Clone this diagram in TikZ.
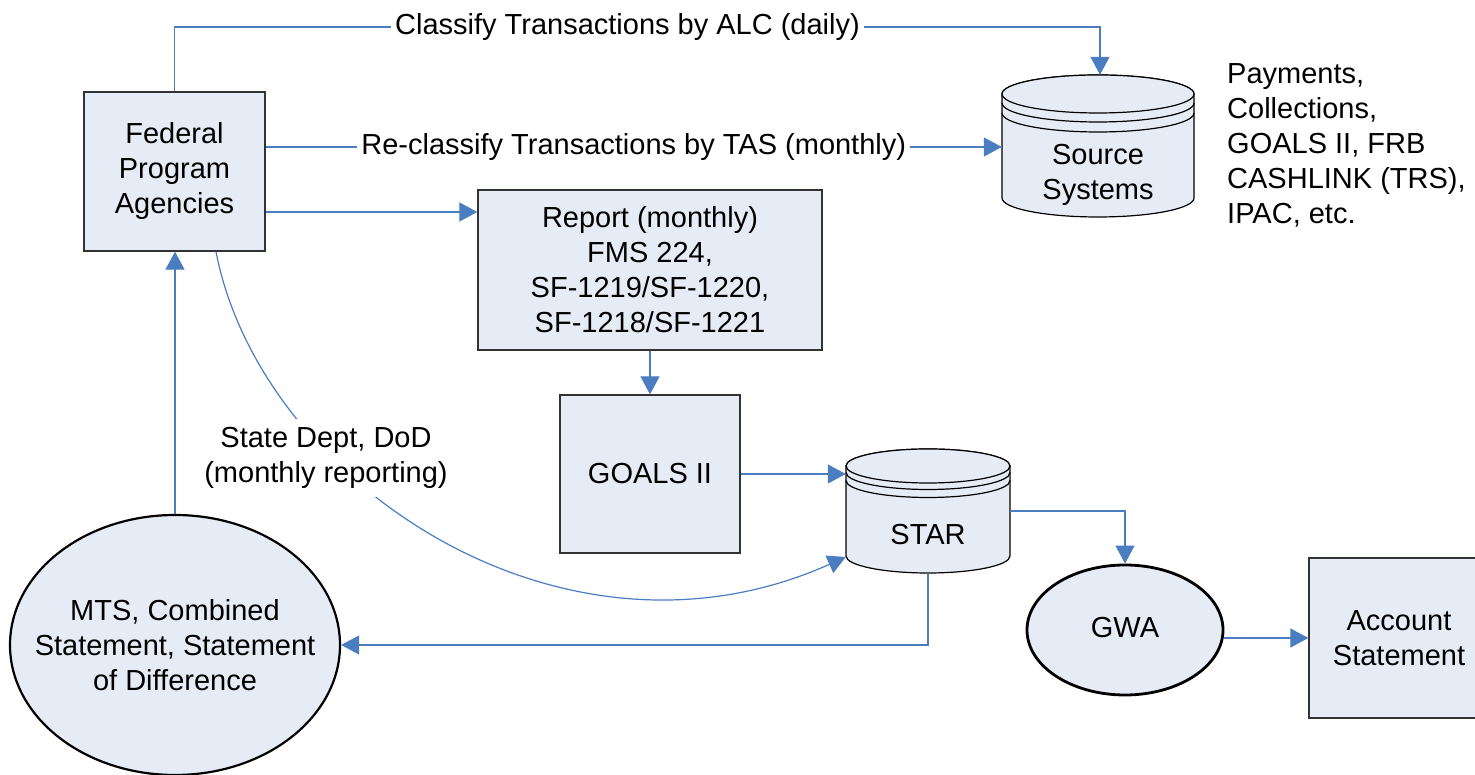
\documentclass[tikz,border=0pt]{standalone}
\usepackage{fontspec}
\setmainfont{Liberation Sans}
\usetikzlibrary{arrows.meta,shapes.geometric,calc}
\definecolor{connblue}{RGB}{74,126,193}
\definecolor{boxfill}{RGB}{230,236,246}
\definecolor{boxline}{RGB}{50,50,50}
\tikzset{
 txt/.style={font=\fontsize{29}{35}\selectfont, align=center, inner sep=0pt},
 boxnode/.style={txt, draw=boxline, line width=1.3pt, fill=boxfill},
 ellnode/.style={ellipse, draw=black, line width=2.2pt, fill=boxfill, inner sep=0pt},
 conn/.style={draw=connblue, line width=1.2pt, -{Triangle[length=18pt,width=19pt]}},
 lbl/.style={txt, fill=white, inner xsep=4pt, inner ysep=4pt},
 cyl/.style={fill=boxfill, draw=black, line width=1.2pt},
 ghost/.style={inner sep=0pt, draw=none},
}
\begin{document}
\begin{tikzpicture}[x=1pt,y=1pt]
\useasboundingbox (0,0) rectangle (1475,775);
% ---- Source Systems cylinder
\path[cyl] (1002,681) -- (1002,577) arc[start angle=180, end angle=360, x radius=96pt, y radius=19pt]
  -- (1194,681) arc[start angle=0, end angle=180, x radius=96pt, y radius=19pt] -- cycle;
\draw[cyl] (1098,681) ellipse[x radius=96pt, y radius=19pt];
\draw[black, line width=1.2pt] (1002,672) arc[start angle=180, end angle=360, x radius=96pt, y radius=19pt];
\draw[black, line width=1.2pt] (1002,662) arc[start angle=180, end angle=360, x radius=96pt, y radius=19pt];
\node[ghost, minimum width=192pt, minimum height=142pt] (src) at (1098,629) {};
\node[txt] (srct) at (1098,600) {Source\\Systems};
% ---- STAR cylinder
\path[cyl] (846,309) -- (846,219) arc[start angle=180, end angle=360, x radius=82pt, y radius=17pt]
  -- (1010,309) arc[start angle=0, end angle=180, x radius=82pt, y radius=17pt] -- cycle;
\draw[cyl] (928,309) ellipse[x radius=82pt, y radius=17pt];
\draw[black, line width=1.2pt] (846,302.5) arc[start angle=180, end angle=360, x radius=82pt, y radius=17pt];
\draw[black, line width=1.2pt] (846,294.5) arc[start angle=180, end angle=360, x radius=82pt, y radius=17pt];
\node[ghost, minimum width=164pt, minimum height=124pt] (star) at (928,264) {};
\node[txt] (start) at (928,240) {STAR};
% ---- boxes
\node[boxnode, minimum width=181pt, minimum height=159pt] (fpa) at (174.5,603.5) {Federal\\Program\\Agencies};
\node[boxnode, minimum width=344pt, minimum height=160pt] (report) at (650,505) {Report (monthly)\\FMS 224,\\SF-1219/SF-1220,\\SF-1218/SF-1221};
\node[boxnode, minimum width=180pt, minimum height=158pt] (goals) at (650,301) {GOALS II};
\node[boxnode, minimum width=180pt, minimum height=160pt] (acct) at (1399,137) {Account\\Statement};
% ---- ellipses
\node[ellnode, minimum width=330pt, minimum height=260pt] (mts) at (175,130) {};
\node[txt] (mtst) at (175,130) {MTS, Combined\\Statement, Statement\\of Difference};
\node[ellnode, line width=2.8pt, minimum width=196pt, minimum height=130pt] (gwa) at (1125,145) {};
\node[txt] (gwat) at (1125,147) {GWA};
% ---- side text
\node[txt, align=left, anchor=west] (pay) at (1227,630) {Payments,\\Collections,\\GOALS II, FRB\\CASHLINK (TRS),\\IPAC, etc.};
% ---- connectors
\coordinate (alcturn) at (1100,748);
\draw[conn] (fpa.north) |- (alcturn) -- (alcturn |- src.north);
\node[lbl] (alc) at (627.5,748) {Classify Transactions by ALC (daily)};
\draw[conn] (fpa.east |- 0,628) -- (src.west |- 0,628) node[lbl, midway] (tas) {Re-classify Transactions by TAS (monthly)};
\draw[conn] (fpa.east |- 0,563) -- (report.west |- 0,563);
\draw[conn] (report.south) -- (goals.north);
\draw[conn] (goals.east) -- (goals.east -| star.west);
\coordinate (curvestart) at ($(fpa.south)+(41.5,0)$);
\coordinate (curveend) at (star.west |- 0,218);
\draw[conn] (curvestart) .. controls (260,295) and (560,90) .. (curveend);
\node[lbl, inner xsep=6pt, inner ysep=8pt] (dod) at (326,317) {State Dept, DoD\\(monthly reporting)};
\draw[conn] (mts.north) -- (mts.north |- fpa.south);
\draw[conn] (star.south) |- (mts.east);
\draw[conn] (star.east) -| (gwa.north);
\draw[conn] (acct.west -| gwa.east) -- (acct.west);
\end{tikzpicture}
\end{document}
